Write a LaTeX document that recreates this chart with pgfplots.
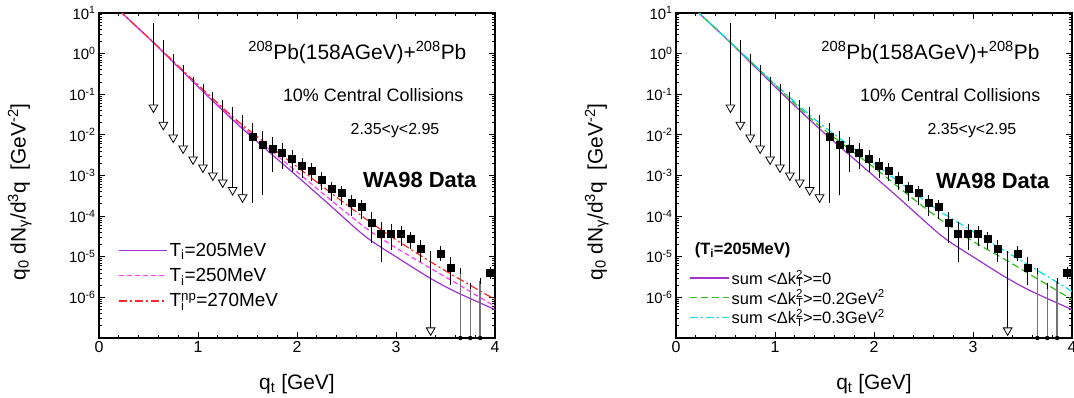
\documentclass[border=0pt]{standalone}
\usepackage{pgfplots}
\pgfplotsset{compat=1.18}
\usepackage{pgfplotstable}
\usepackage{fontspec}
\setmainfont{Liberation Sans}

\definecolor{cpurple}{RGB}{160,50,210}
\definecolor{cmag}{RGB}{255,60,255}
\definecolor{cred}{RGB}{250,40,40}
\definecolor{cgreen}{RGB}{50,190,20}
\definecolor{ccyan}{RGB}{0,225,225}

% measured points: x, value, lower end, upper end
\pgfplotstableread{
x y lo hi
1.55 9.14e-3 2.54e-4 1.675e-2
1.65 5.71e-3 3.85e-4 1.064e-2
1.75 4.55e-3 1.445e-3 7.28e-3
1.85 3.70e-3 1.675e-3 5.40e-3
1.95 2.59e-3 1.445e-3 3.57e-3
2.05 1.77e-3 1.047e-3 2.22e-3
2.15 1.31e-3 8.69e-4 1.675e-3
2.25 7.89e-4 5.21e-4 1.047e-3
2.35 4.74e-4 2.80e-4 5.94e-4
2.45 3.72e-4 2.18e-4 4.66e-4
2.55 2.11e-4 1.20e-4 2.80e-4
2.65 1.66e-4 1.03e-4 2.11e-4
2.75 6.81e-5 2.54e-5 1.047e-4
2.85 3.72e-5 8.87e-6 6.18e-5
2.95 3.66e-5 1.71e-5 5.43e-5
3.05 3.66e-5 2.19e-5 4.85e-5
3.15 2.75e-5 1.81e-5 3.51e-5
3.25 1.59e-5 8.87e-6 2.20e-5
3.45 1.18e-5 9.4e-6 1.56e-5
3.55 5.52e-6 2.36e-6 8.53e-6
3.95 4.16e-6 3.32e-6 4.85e-6
}\dataSq

% upper limits: x, arrow head, upper end
\pgfplotstableread{
x tri cap
0.55 0.0471 4.69
0.65 0.0177 1.83
0.75 0.00863 0.81
0.85 0.00463 0.445
0.95 0.00249 0.23
1.05 0.00158 0.152
1.15 0.00100 0.0944
1.25 6.76e-4 0.0604
1.35 4.38e-4 0.0405
1.45 2.9e-4 0.0263
3.35 1.54e-7 1.18e-5
}\dataUL

% bars reaching below the frame
\pgfplotstableread{
x base cap
3.65 1e-7 4.41e-6
3.75 1e-7 1.88e-6
3.85 1e-7 2.50e-6
}\dataLn

% model curves
\pgfplotstableread{
x p m r g c
0.2 11.75 11.75 11.75 11.75 11.75
0.55 1.862 1.884 1.905 1.905 1.905
1.05 0.1167 0.1230 0.1318 0.1318 0.1380
1.45 0.01413 0.01549 0.01738 0.01660 0.01950
2.03 8.32e-4 1.072e-3 1.445e-3 1.380e-3 1.738e-3
2.3 2.188e-4 3.02e-4 4.47e-4 4.07e-4 5.75e-4
2.64 3.98e-5 6.46e-5 1.072e-4 9.33e-5 1.445e-4
2.8 2.042e-5 3.39e-5 5.62e-5 5.01e-5 8.32e-5
3.0 1.0e-5 1.660e-5 2.63e-5 2.399e-5 4.17e-5
3.34 3.02e-6 5.37e-6 7.76e-6 8.13e-6 1.318e-5
3.6 1.380e-6 2.291e-6 3.24e-6 3.39e-6 5.50e-6
4.0 5.01e-7 6.03e-7 8.91e-7 8.91e-7 1.413e-6
}\dataCurve

\begin{document}
\begin{tikzpicture}
% ---------------- left panel ----------------
\begin{axis}[at={(0bp,0bp)}, anchor=south west,
    scale only axis, width=396bp, height=325bp,
    xmin=0, xmax=4, ymode=log, ymin=1e-7, ymax=10,
    xtick={0,1,2,3,4}, minor x tick num=4,
    ytick={1e-7,1e-6,1e-5,1e-4,1e-3,1e-2,1e-1,1,10},
    yticklabels={,10\textsuperscript{-6},10\textsuperscript{-5},10\textsuperscript{-4},10\textsuperscript{-3},10\textsuperscript{-2},10\textsuperscript{-1},10\textsuperscript{0},10\textsuperscript{1}},
    /pgf/number format/assume math mode=true,
    yticklabel style={font=\fontsize{15}{15}\selectfont},
    xticklabel style={font=\fontsize{16}{16}\selectfont},
    major tick length=6bp, minor tick length=3bp,
    tick style={black, line width=0.8bp},
    axis line style={line width=1.2bp},
    xlabel={q\textsubscript{t} [GeV]},
    ylabel={q\textsubscript{0} dN\textsubscript{γ}/d\textsuperscript{3}q \ [GeV\textsuperscript{-2}]},
    label style={font=\fontsize{21}{21}\selectfont},
    xlabel style={at={(axis description cs:0.5,0)}, anchor=base, yshift=-51bp},
    ylabel style={at={(axis description cs:-0.2,0.45)}, anchor=center},
    legend style={at={(axis description cs:0.04,0.305)}, anchor=north west, draw=none, fill=none,
    font=\fontsize{19}{19}\selectfont, row sep=6.5bp},
    legend cell align=left,
    legend image code/.code={\draw[#1] plot coordinates {(0bp,0bp) (48bp,0bp)};}]
\addplot[cpurple, line width=1.2bp, smooth, forget plot] table[x=x, y=p] {\dataCurve};
\addplot[cmag, line width=1.2bp, smooth, dash pattern=on 5bp off 3bp, forget plot] table[x=x, y=m] {\dataCurve};
\addplot[cred, line width=1.2bp, smooth, dash pattern=on 8bp off 3bp on 2bp off 3bp, forget plot] table[x=x, y=r] {\dataCurve};
\addlegendimage{color=cpurple, line width=1.6bp}
\addlegendentry{T\textsubscript{i}=205MeV}
\addlegendimage{color=cmag, line width=1.6bp, dash pattern=on 5bp off 3bp}
\addlegendentry{T\textsubscript{i}=250MeV}
\addlegendimage{color=cred, line width=1.6bp, dash pattern=on 8bp off 3bp on 2bp off 3bp}
\addlegendentry{T\rlap{\textsubscript{i}}\textsuperscript{np}=270MeV}
\addplot[only marks, mark=square*, mark size=3.5bp, black, forget plot,
    error bars/.cd, y dir=both, y explicit,
    error mark options={black, mark size=3bp, line width=0.8bp},
    error bar style={black, line width=0.8bp}]
  table[x=x, y=y, y error plus expr=\thisrow{hi}-\thisrow{y}, y error minus expr=\thisrow{y}-\thisrow{lo}] {\dataSq};
\addplot[only marks, mark=triangle*, mark size=5bp, black, forget plot,
    mark options={rotate=180, fill=white, draw=black, line width=0.8bp},
    error bars/.cd, y dir=plus, y explicit,
    error mark options={black, mark size=3bp, line width=0.8bp, rotate=0},
    error bar style={black, line width=0.8bp}]
  table[x=x, y=tri, y error plus expr=\thisrow{cap}-\thisrow{tri}] {\dataUL};
\addplot[only marks, mark=none, black, forget plot,
    error bars/.cd, y dir=plus, y explicit,
    error mark options={black, mark size=3bp, line width=0.8bp},
    error bar style={black!55, line width=1.4bp}]
  table[x=x, y=base, y error plus expr=\thisrow{cap}-\thisrow{base}] {\dataLn};
\node[anchor=base, font=\fontsize{21}{21}\selectfont] at (axis cs:2.61,0.73) {\textsuperscript{208}Pb(158AGeV)+\textsuperscript{208}Pb};
\node[anchor=base, font=\fontsize{18}{18}\selectfont] at (axis cs:2.77,0.0661) {10\% Central Collisions};
\node[anchor=base, font=\fontsize{16}{16}\selectfont] at (axis cs:2.99,0.01) {2.35<y<2.95};
\node[anchor=base, font=\fontsize{22}{22}\selectfont\bfseries] at (axis cs:3.24,5.21e-4) {WA98 Data};
\end{axis}
% ---------------- right panel ----------------
\begin{axis}[at={(577bp,0bp)}, anchor=south west,
    scale only axis, width=396bp, height=325bp,
    xmin=0, xmax=4, ymode=log, ymin=1e-7, ymax=10,
    xtick={0,1,2,3,4}, minor x tick num=4,
    ytick={1e-7,1e-6,1e-5,1e-4,1e-3,1e-2,1e-1,1,10},
    yticklabels={,10\textsuperscript{-6},10\textsuperscript{-5},10\textsuperscript{-4},10\textsuperscript{-3},10\textsuperscript{-2},10\textsuperscript{-1},10\textsuperscript{0},10\textsuperscript{1}},
    /pgf/number format/assume math mode=true,
    yticklabel style={font=\fontsize{15}{15}\selectfont},
    xticklabel style={font=\fontsize{16}{16}\selectfont},
    major tick length=6bp, minor tick length=3bp,
    tick style={black, line width=0.8bp},
    axis line style={line width=1.2bp},
    xlabel={q\textsubscript{t} [GeV]},
    ylabel={q\textsubscript{0} dN\textsubscript{γ}/d\textsuperscript{3}q \ [GeV\textsuperscript{-2}]},
    label style={font=\fontsize{21}{21}\selectfont},
    xlabel style={at={(axis description cs:0.5,0)}, anchor=base, yshift=-51bp},
    ylabel style={at={(axis description cs:-0.2,0.45)}, anchor=center},
    legend style={at={(axis description cs:0.025,0.222)}, anchor=north west, draw=none, fill=none,
    font=\fontsize{16.5}{16.5}\selectfont, row sep=0bp},
    legend cell align=left,
    legend image code/.code={\draw[#1] plot coordinates {(0bp,0bp) (39bp,0bp)};}]
\addplot[cpurple, line width=1.2bp, smooth, forget plot] table[x=x, y=p] {\dataCurve};
\addplot[cgreen, line width=1.2bp, smooth, dash pattern=on 7bp off 4bp, forget plot] table[x=x, y=g] {\dataCurve};
\addplot[ccyan, line width=1.2bp, smooth, dash pattern=on 8bp off 3bp on 2bp off 3bp, forget plot] table[x=x, y=c] {\dataCurve};
\addlegendimage{color=cpurple, line width=1.6bp}
\addlegendentry{sum \textless\symbol{"0394}k\rlap{\textsubscript{T}}\textsuperscript{2}\textgreater=0}
\addlegendimage{color=cgreen, line width=1.6bp, dash pattern=on 7bp off 4bp}
\addlegendentry{sum \textless\symbol{"0394}k\rlap{\textsubscript{T}}\textsuperscript{2}\textgreater=0.2GeV\textsuperscript{2}}
\addlegendimage{color=ccyan, line width=1.6bp, dash pattern=on 8bp off 3bp on 2bp off 3bp}
\addlegendentry{sum \textless\symbol{"0394}k\rlap{\textsubscript{T}}\textsuperscript{2}\textgreater=0.3GeV\textsuperscript{2}}
\addplot[only marks, mark=square*, mark size=3.5bp, black, forget plot,
    error bars/.cd, y dir=both, y explicit,
    error mark options={black, mark size=3bp, line width=0.8bp},
    error bar style={black, line width=0.8bp}]
  table[x=x, y=y, y error plus expr=\thisrow{hi}-\thisrow{y}, y error minus expr=\thisrow{y}-\thisrow{lo}] {\dataSq};
\addplot[only marks, mark=triangle*, mark size=5bp, black, forget plot,
    mark options={rotate=180, fill=white, draw=black, line width=0.8bp},
    error bars/.cd, y dir=plus, y explicit,
    error mark options={black, mark size=3bp, line width=0.8bp, rotate=0},
    error bar style={black, line width=0.8bp}]
  table[x=x, y=tri, y error plus expr=\thisrow{cap}-\thisrow{tri}] {\dataUL};
\addplot[only marks, mark=none, black, forget plot,
    error bars/.cd, y dir=plus, y explicit,
    error mark options={black, mark size=3bp, line width=0.8bp},
    error bar style={black!55, line width=1.4bp}]
  table[x=x, y=base, y error plus expr=\thisrow{cap}-\thisrow{base}] {\dataLn};
\node[anchor=base, font=\fontsize{21}{21}\selectfont] at (axis cs:2.57,0.73) {\textsuperscript{208}Pb(158AGeV)+\textsuperscript{208}Pb};
\node[anchor=base, font=\fontsize{18}{18}\selectfont] at (axis cs:2.77,0.0661) {10\% Central Collisions};
\node[anchor=base, font=\fontsize{16}{16}\selectfont] at (axis cs:2.99,0.01) {2.35<y<2.95};
\node[anchor=base, font=\fontsize{22}{22}\selectfont\bfseries] at (axis cs:3.2,4.9e-4) {WA98 Data};
\node[anchor=base, font=\fontsize{16.5}{16.5}\selectfont\bfseries] at (axis cs:0.672,1.13e-5) {(T\textsubscript{i}=205MeV)};
\end{axis}
\pgfresetboundingbox
\path[use as bounding box] (-99bp,-60bp) rectangle (975bp,338bp);
\end{tikzpicture}
\end{document}
